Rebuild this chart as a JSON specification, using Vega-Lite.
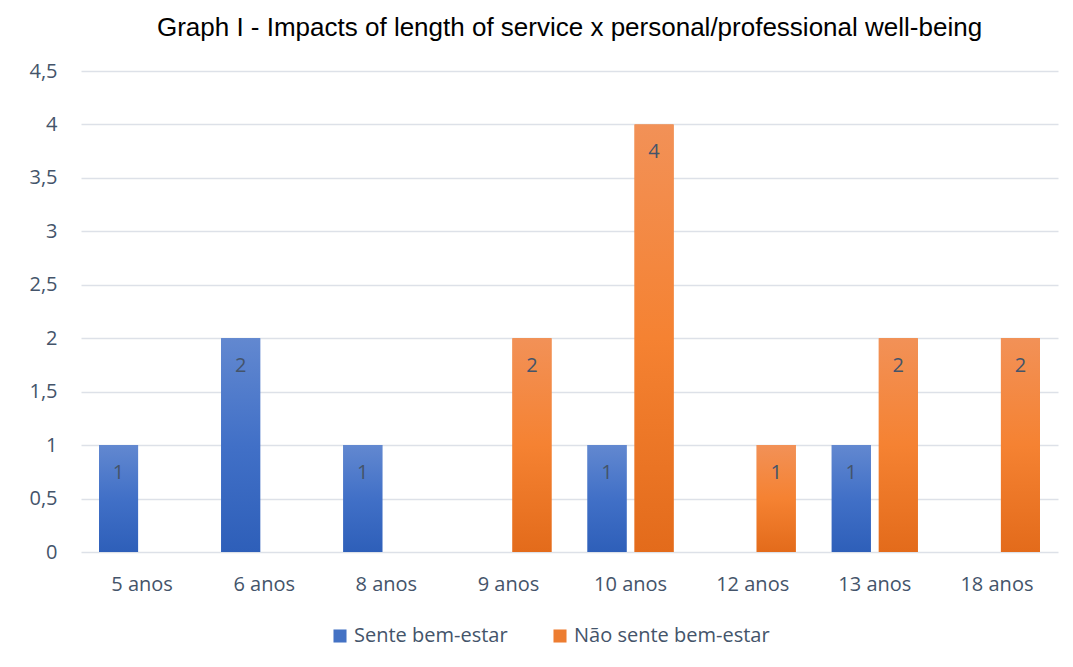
{
  "$schema": "https://vega.github.io/schema/vega-lite/v6.json",
  "width": 977,
  "height": 481,
  "autosize": {"type": "pad"},
  "padding": {"left": 28, "top": 15, "right": 10, "bottom": 10},
  "background": "white",
  "title": {
    "text": "Graph I - Impacts of length of service x personal/professional well-being",
    "font": "Liberation Sans",
    "fontSize": 26,
    "fontWeight": "normal",
    "color": "#000000",
    "anchor": "middle",
    "offset": 20
  },
  "config": {
    "view": {"stroke": null},
    "axis": {"labelFont": "Open Sans", "labelColor": "#44546a", "labelFontSize": 20}
  },
  "data": {
    "values": [
      {"cat": "5 anos", "series": "Sente bem-estar", "value": 1},
      {"cat": "6 anos", "series": "Sente bem-estar", "value": 2},
      {"cat": "8 anos", "series": "Sente bem-estar", "value": 1},
      {"cat": "9 anos", "series": "Não sente bem-estar", "value": 2},
      {"cat": "10 anos", "series": "Sente bem-estar", "value": 1},
      {"cat": "10 anos", "series": "Não sente bem-estar", "value": 4},
      {"cat": "12 anos", "series": "Não sente bem-estar", "value": 1},
      {"cat": "13 anos", "series": "Sente bem-estar", "value": 1},
      {"cat": "13 anos", "series": "Não sente bem-estar", "value": 2},
      {"cat": "18 anos", "series": "Não sente bem-estar", "value": 2}
    ]
  },
  "encoding": {
    "x": {
      "field": "cat",
      "type": "nominal",
      "sort": ["5 anos", "6 anos", "8 anos", "9 anos", "10 anos", "12 anos", "13 anos", "18 anos"],
      "scale": {"paddingInner": 0.295, "paddingOuter": 0.1475},
      "axis": {"title": null, "labelAngle": 0, "ticks": false, "domain": false, "labelPadding": 22, "labelFontSize": 20}
    },
    "xOffset": {
      "field": "series",
      "type": "nominal",
      "scale": {"domain": ["Sente bem-estar", "Não sente bem-estar"], "paddingInner": 0.17, "paddingOuter": 0}
    },
    "y": {
      "field": "value",
      "type": "quantitative",
      "scale": {"domain": [0, 4.5]},
      "axis": {
        "title": null,
        "values": [0, 0.5, 1, 1.5, 2, 2.5, 3, 3.5, 4, 4.5],
        "labelExpr": "replace(format(datum.value, '~g'), '.', ',')",
        "ticks": false,
        "domain": false,
        "labelPadding": 24,
        "gridColor": "#dde1e8",
        "gridWidth": 1.5
      }
    }
  },
  "layer": [
    {
      "mark": {"type": "bar"},
      "encoding": {
        "color": {
          "field": "series",
          "type": "nominal",
          "scale": {"domain": ["Sente bem-estar", "Não sente bem-estar"], "range": ["#4472c4", "#ed7d31"]},
          "legend": {
            "title": null,
            "orient": "none",
            "legendX": 249,
            "legendY": 555,
            "direction": "horizontal",
            "symbolType": "square",
            "symbolSize": 170,
            "symbolStrokeWidth": 0,
            "labelFont": "Open Sans",
            "labelFontSize": 20,
            "labelColor": "#44546a",
            "labelLimit": 400,
            "columnPadding": 42,
            "labelOffset": 4
          }
        }
      }
    },
    {
      "mark": {"type": "bar"},
      "encoding": {
        "fill": {
          "condition": {
            "test": "datum.series === 'Sente bem-estar'",
            "value": {
              "gradient": "linear", "x1": 0, "y1": 0, "x2": 0, "y2": 1,
              "stops": [
                {"offset": 0, "color": "#6288d0"},
                {"offset": 0.5, "color": "#4170c7"},
                {"offset": 1, "color": "#2e5fb9"}
              ]
            }
          },
          "value": {
            "gradient": "linear", "x1": 0, "y1": 0, "x2": 0, "y2": 1,
            "stops": [
              {"offset": 0, "color": "#f29157"},
              {"offset": 0.5, "color": "#f58232"},
              {"offset": 1, "color": "#e36b1b"}
            ]
          }
        }
      }
    },
    {
      "mark": {"type": "text", "baseline": "middle", "dy": 28, "font": "Open Sans", "fontSize": 20, "color": "#44546a"},
      "encoding": {"text": {"field": "value", "type": "quantitative"}}
    }
  ]
}
